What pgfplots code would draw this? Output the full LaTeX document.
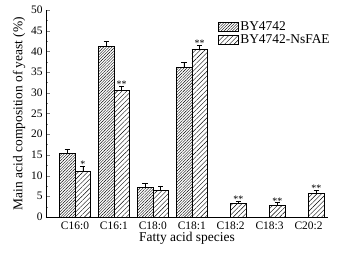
\documentclass[border=0pt]{standalone}
\usepackage{fontspec}
\setmainfont{Liberation Serif}
\usepackage{pgfplots}
\pgfplotsset{compat=1.18}
\usetikzlibrary{patterns.meta}
\begin{document}
\begin{tikzpicture}
\begin{axis}[
  scale only axis,
  width=282bp, height=207bp,
  xmin=-0.745, xmax=6.5,
  ymin=0, ymax=50,
  axis x line*=bottom, axis y line*=left,
  ytick={0,5,...,50},
  minor y tick num=1,
  xtick={0,...,6},
  xticklabels={C16:0,C16:1,C18:0,C18:1,C18:2,C18:3,C20:2},
  x tick style={draw=none},
  tick align=inside,
  major tick length=4bp,
  minor tick length=2bp,
  /pgf/number format/assume math mode=true,
  tick label style={font=\fontsize{11.5}{12}\selectfont},
  xticklabel style={yshift=-1.5bp},
  label style={font=\fontsize{13.5}{15}\selectfont},
  xlabel={Fatty acid species},
  ylabel={Main acid composition of yeast (\%)},
  xlabel style={yshift=4bp},
  ylabel style={yshift=-1bp},
  legend style={at={(0.605,0.96)}, anchor=north west, draw=none, fill=none,
    font=\fontsize{13.5}{14}\selectfont, row sep=-1bp, inner sep=1bp},
  legend cell align=left,
  legend image code/.code={\draw[#1] (0bp,-4.5bp) rectangle (20bp,4.5bp);},
  error bars/error bar style={black, line width=0.5pt},
  error bars/error mark options={rotate=90, mark size=2.6bp, line width=0.5pt, black},
]
\addplot[ybar, bar width=0.4, bar shift=0pt, draw=black, line width=0.5pt,
  pattern={Lines[angle=45, distance=2.0pt, line width=0.4pt]},
  error bars/.cd, y dir=plus, y explicit]
  table[x=x, y=y, y error=e] {
x y e
-0.2 15.3 1.0
0.8 41.2 1.3
1.8 7.2 0.9
2.8 36.2 1.2
};
\addlegendentry{BY4742}
\addplot[ybar, bar width=0.4, bar shift=0pt, draw=black, line width=0.5pt,
  pattern={Lines[angle=45, distance=3.3pt, line width=0.4pt]},
  error bars/.cd, y dir=plus, y explicit]
  table[x=x, y=y, y error=e] {
x y e
0.2 11.0 1.3
1.2 30.5 1.1
2.2 6.5 1.0
3.2 40.5 1.0
4.2 3.3 0.6
5.2 2.8 0.7
6.2 5.7 0.8
};
\addlegendentry{BY4742-NsFAE}
\addplot[only marks, mark=none, forget plot,
  nodes near coords={\pgfplotspointmeta},
  point meta=explicit symbolic,
  nodes near coords style={font=\fontsize{10}{10}\selectfont, anchor=south, inner sep=0.5bp, yshift=-2.5bp}]
  table[x=x, y=y, meta=s] {
x y s
0.2 12.3 *
1.2 31.6 **
3.2 41.5 **
4.2 3.9 **
5.2 3.5 **
6.2 6.5 **
};
\end{axis}
\pgfresetboundingbox
\path[use as bounding box] (-46bp,-38bp) rectangle (295bp,217bp);
\end{tikzpicture}
\end{document}
